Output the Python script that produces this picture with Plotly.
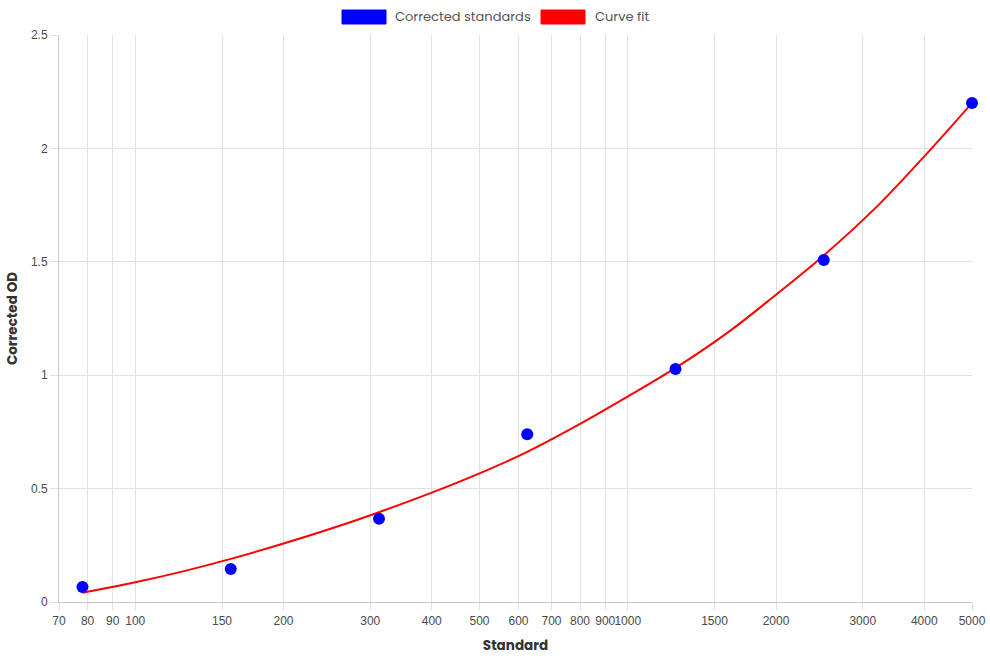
import math
import plotly.graph_objects as go

# Data
standards = [78.125, 156.25, 312.5, 625, 1250, 2500, 5000]
corrected_od = [0.066, 0.145, 0.367, 0.74, 1.027, 1.508, 2.2]

fit_x = [78.125, 100, 125, 156.25, 200, 250, 312.5, 400, 500, 625, 800, 1000, 1250, 1600, 2000, 2500, 3200, 4000, 5000]
fit_y = [0.041, 0.087, 0.135, 0.19, 0.258, 0.324, 0.396, 0.482, 0.567, 0.662, 0.785, 0.906, 1.032, 1.19, 1.355, 1.528, 1.742, 1.965, 2.2]

x_ticks = [70, 80, 90, 100, 150, 200, 300, 400, 500, 600, 700, 800, 900, 1000, 1500, 2000, 3000, 4000, 5000]
y_ticks = [0, 0.5, 1, 1.5, 2, 2.5]

legend_labels = ["Corrected standards", "Curve fit"]
colors = ["#0000ff", "#ff0000"]

FONT = "Poppins, Inter, 'Open Sans', sans-serif"
TICKFONT = "'Liberation Sans', Arial, sans-serif"
GRID = "#e2e2e2"

fig = go.Figure()
fig.add_trace(go.Scatter(
    x=fit_x, y=fit_y, mode="lines", line=dict(color=colors[1], width=2, shape="spline", smoothing=1.0),
    showlegend=False, hoverinfo="skip"))
fig.add_trace(go.Scatter(
    x=standards, y=corrected_od, mode="markers",
    marker=dict(color=colors[0], size=12, line=dict(width=0)),
    showlegend=False, cliponaxis=False))

fig.update_xaxes(
    type="log", range=[math.log10(70), math.log10(5000)],
    tickvals=x_ticks, ticktext=[str(v) for v in x_ticks], tickangle=0,
    showgrid=True, gridcolor=GRID, gridwidth=1,
    ticks="outside", ticklen=8, tickcolor=GRID,
    showline=True, linecolor="#c8c8c8", linewidth=1, mirror=False,
    tickfont=dict(family=TICKFONT, size=12, color="#4a4a4a"),
    title=dict(text="<b>Standard</b>", font=dict(family=FONT, size=13.5, color="#333333"), standoff=13),
    zeroline=False, automargin=False)
fig.update_yaxes(
    range=[0, 2.5], tickvals=y_ticks, ticktext=["0", "0.5", "1", "1.5", "2", "2.5"],
    showgrid=True, gridcolor=GRID, gridwidth=1,
    ticks="outside", ticklen=8, tickcolor=GRID,
    showline=True, linecolor="#c8c8c8", linewidth=1,
    tickfont=dict(family=TICKFONT, size=12, color="#4a4a4a"),
    title=dict(text="<b>Corrected OD</b>", font=dict(family=FONT, size=13.5, color="#333333"), standoff=10),
    zeroline=False, automargin=False)

# Chart.js-style legend boxes
shapes = []
annotations = []
box_x = [342, 541]
text_x = [393, 593]
for i, lab in enumerate(legend_labels):
    shapes.append(dict(type="rect", xref="paper", yref="paper",
                       x0=(box_x[i] - 59) / 913, x1=(box_x[i] + 44 - 59) / 913,
                       y0=(602 - 24) / 567, y1=(602 - 10) / 567,
                       fillcolor=colors[i], line=dict(color=colors[i], width=1), layer="above"))
    annotations.append(dict(text=lab, xref="paper", yref="paper",
                            x=(text_x[i] - 59) / 913, y=(602 - 17) / 567,
                            xanchor="left", yanchor="middle", showarrow=False,
                            font=dict(family=FONT, size=13, color="#555555")))

fig.update_layout(
    width=990, height=660,
    margin=dict(l=59, r=18, t=35, b=58),
    paper_bgcolor="white", plot_bgcolor="white",
    shapes=shapes, annotations=annotations,
    showlegend=False, hovermode=False,
)

fig.write_html("out.html")
